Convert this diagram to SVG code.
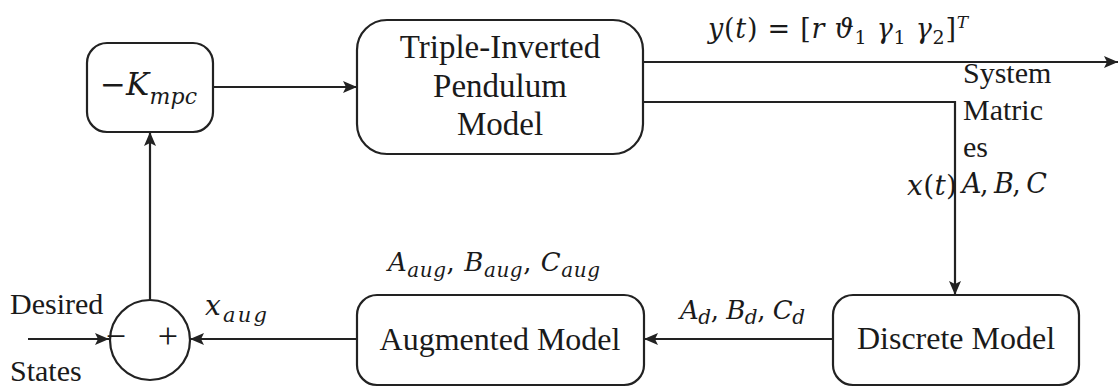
<svg xmlns="http://www.w3.org/2000/svg" width="1119" height="388" viewBox="0 0 1119 388">
  <style>
    .box { fill: #fff; stroke: #222; stroke-width: 2.2; }
    .wire { fill: none; stroke: #222; stroke-width: 2.2; }
    .lbl { fill: #1a1a1a; }
    .math { fill: #1a1a1a; font-style: italic; }
    .up { font-style: normal; }
  </style>
  <defs>
    <marker id="arrow" viewBox="0 0 14 12" refX="14" refY="6" markerWidth="14" markerHeight="12" markerUnits="userSpaceOnUse" orient="auto">
      <path d="M0,0 L14,6 L0,12 L3,6 Z" fill="#222"/>
    </marker>
  </defs>
  <rect width="1119" height="388" fill="#fff"/>

  <!-- connectors -->
  <g id="connectors">
    <path class="wire" d="M213,87 H357" marker-end="url(#arrow)"/>
    <path class="wire" d="M643,62 H1118" marker-end="url(#arrow)"/>
    <path class="wire" d="M643,102 H955 V295" marker-end="url(#arrow)"/>
    <path class="wire" d="M833,339 H644" marker-end="url(#arrow)"/>
    <path class="wire" d="M357,339 H190" marker-end="url(#arrow)"/>
    <path class="wire" d="M28,339 H109" marker-end="url(#arrow)"/>
    <path class="wire" d="M150,300 V132" marker-end="url(#arrow)"/>
  </g>

  <!-- controller gain -->
  <g id="gain">
    <rect class="box" x="87" y="43" width="126" height="89" rx="20"/>
    <text class="math" font-family="DejaVu Serif, serif" x="100" y="95" font-size="31" textLength="97" lengthAdjust="spacing"><tspan class="up">−</tspan>K<tspan font-size="22" dy="9">mpc</tspan></text>
  </g>

  <!-- plant -->
  <g id="plant" font-family="Liberation Serif, serif">
    <rect class="box" x="357" y="20" width="286" height="134" rx="30"/>
    <text class="lbl" x="500" y="58" font-size="33" text-anchor="middle">Triple-Inverted</text>
    <text class="lbl" x="500" y="97" font-size="33" text-anchor="middle">Pendulum</text>
    <text class="lbl" x="500" y="135" font-size="33" text-anchor="middle">Model</text>
  </g>

  <!-- discretisation -->
  <g id="discrete" font-family="Liberation Serif, serif">
    <rect class="box" x="833" y="295" width="246" height="90" rx="20"/>
    <text class="lbl" x="956" y="349" font-size="32" text-anchor="middle">Discrete Model</text>
  </g>

  <!-- augmentation -->
  <g id="augmented" font-family="Liberation Serif, serif">
    <rect class="box" x="357" y="295" width="287" height="90" rx="20"/>
    <text class="lbl" x="500" y="350" font-size="32" text-anchor="middle">Augmented Model</text>
  </g>

  <!-- summing junction -->
  <g id="sum" font-family="Liberation Serif, serif">
    <circle class="box" cx="150" cy="340" r="40"/>
    <text class="lbl" x="116" y="348" font-size="36" text-anchor="middle">−</text>
    <text class="lbl" x="168" y="348" font-size="36" text-anchor="middle">+</text>
  </g>

  <!-- signal labels -->
  <g id="labels">
    <g font-family="DejaVu Serif, serif">
      <text class="math" x="708" y="38" font-size="27" textLength="260" lengthAdjust="spacing">y<tspan class="up">(</tspan>t<tspan class="up">) = [</tspan>r ϑ<tspan class="up" font-size="19" dy="6">1</tspan><tspan dy="-6"> γ</tspan><tspan class="up" font-size="19" dy="6">1</tspan><tspan dy="-6"> γ</tspan><tspan class="up" font-size="19" dy="6">2</tspan><tspan class="up" dy="-6">]</tspan><tspan font-size="17" dy="-10">T</tspan></text>
      <text class="math" x="962" y="193" font-size="27" textLength="85" lengthAdjust="spacing">A<tspan class="up">, </tspan>B<tspan class="up">, </tspan>C</text>
      <text class="math" x="907" y="195" font-size="28" textLength="50" lengthAdjust="spacing">x<tspan class="up">(</tspan>t<tspan class="up">)</tspan></text>
      <text class="math" x="680" y="319" font-size="26" textLength="125" lengthAdjust="spacing">A<tspan font-size="20" dy="5">d</tspan><tspan class="up" dy="-5">, </tspan>B<tspan font-size="20" dy="5">d</tspan><tspan class="up" dy="-5">, </tspan>C<tspan font-size="20" dy="5">d</tspan></text>
      <text class="math" x="388" y="271" font-size="26" textLength="212" lengthAdjust="spacing">A<tspan font-size="20" dy="6">aug</tspan><tspan class="up" dy="-6">, </tspan>B<tspan font-size="20" dy="6">aug</tspan><tspan class="up" dy="-6">, </tspan>C<tspan font-size="20" dy="6">aug</tspan></text>
      <text class="math" x="205" y="315" font-size="28" textLength="62" lengthAdjust="spacing">x<tspan font-size="21" dy="7">aug</tspan></text>
    </g>
    <g font-family="Liberation Serif, serif">
      <text class="lbl" x="963" y="83" font-size="30">System</text>
      <text class="lbl" x="963" y="120" font-size="30">Matric</text>
      <text class="lbl" x="963" y="157" font-size="30">es</text>
      <text class="lbl" x="10" y="314" font-size="30">Desired</text>
      <text class="lbl" x="10" y="381" font-size="30">States</text>
    </g>
  </g>
</svg>
